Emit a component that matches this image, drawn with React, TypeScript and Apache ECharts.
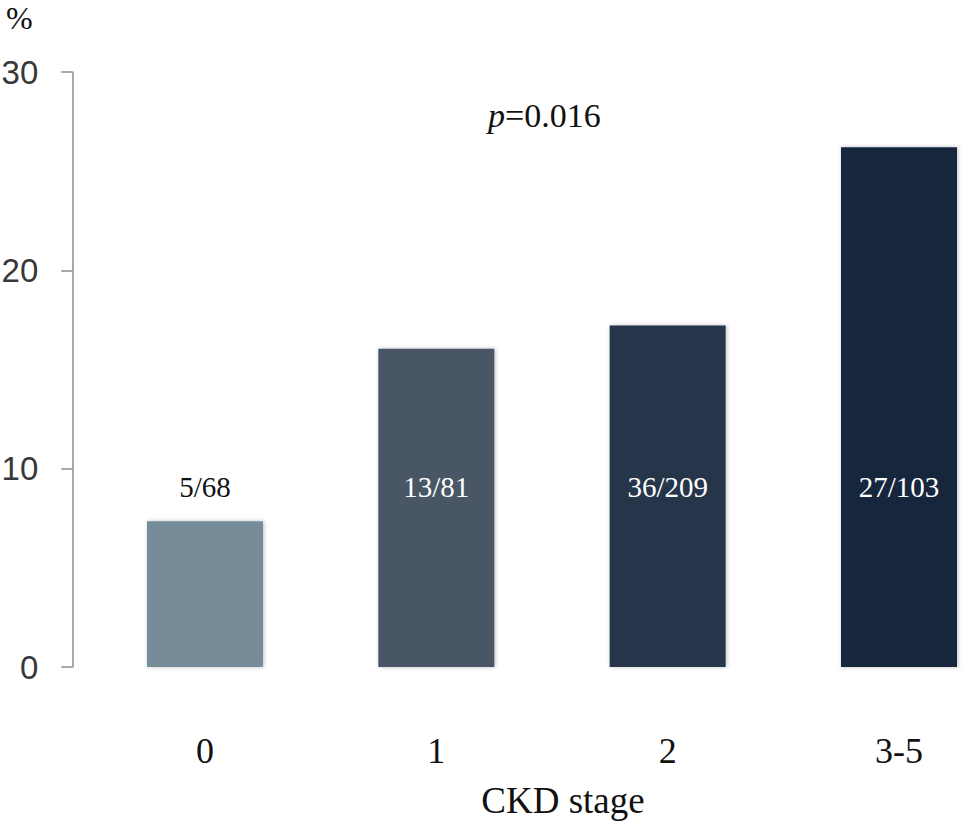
import React, { useEffect, useRef } from "react";
import * as echarts from "echarts";

const categories = ["0", "1", "2", "3-5"];
const percentValues = [7.35, 16.05, 17.22, 26.21];
const countLabels = ["5/68", "13/81", "36/209", "27/103"];
const barColors = ["#778c99", "#4a5766", "#263648", "#12263d"];
const labelColors = ["#111111", "#ffffff", "#ffffff", "#ffffff"];
const labelLevel = [9.1, 9.1, 9.1, 9.1];
const yTicks = { min: 0, max: 30, interval: 10 };

const SERIF = "Liberation Serif";

export default function App() {
  const ref = useRef<HTMLDivElement>(null);
  useEffect(() => {
    if (!ref.current) return;
    const chart = echarts.init(ref.current, null, { renderer: "svg" });
    chart.setOption({
      animation: false,
      backgroundColor: "#ffffff",
      textStyle: { fontFamily: SERIF },
      grid: {
        left: 89.33,
        right: -46.67,
        top: 72,
        bottom: 154,
        containLabel: false,
        outerBoundsMode: "none",
      },
      xAxis: {
        type: "category",
        data: categories,
        axisLine: { show: false },
        axisTick: { show: false },
        axisLabel: {
          margin: 66,
          fontFamily: SERIF,
          fontSize: 36,
          color: "#111111",
        },
      },
      yAxis: {
        type: "value",
        min: yTicks.min,
        max: yTicks.max,
        interval: yTicks.interval,
        offset: 17,
        splitLine: { show: false },
        axisLine: { show: true, lineStyle: { color: "#8c8c8c", width: 1.5 } },
        axisTick: { show: true, length: 11, lineStyle: { color: "#8c8c8c", width: 1.5 } },
        axisLabel: {
          margin: 34,
          fontFamily: "Liberation Sans",
          fontSize: 33,
          color: "#383838",
        },
      },
      series: [
        {
          type: "bar",
          barWidth: 116,
          data: percentValues.map((v, i) => ({
            value: v,
            itemStyle: {
              color: barColors[i],
              shadowBlur: 4,
              shadowColor: "rgba(0,0,0,0.25)",
              shadowOffsetX: 1,
              shadowOffsetY: 0,
            },
          })),
        },
        {
          type: "scatter",
          symbolSize: 0,
          z: 5,
          itemStyle: { opacity: 1 },
          label: {
            show: true,
            position: "inside",
            fontFamily: SERIF,
            fontSize: 29,
            formatter: (p: any) => countLabels[p.dataIndex],
          },
          data: labelLevel.map((v, i) => ({
            value: v,
            label: { color: labelColors[i] },
          })),
        },
      ],
      graphic: [
        {
          type: "text",
          left: 6,
          top: 2,
          style: {
            text: "%",
            fontFamily: SERIF,
            fontSize: 32,
            fill: "#111111",
          },
        },
        {
          type: "text",
          x: 505,
          y: 115,
          style: {
            text: "p",
            fontFamily: SERIF,
            fontStyle: "italic",
            fontSize: 34,
            fill: "#111111",
            align: "right",
            verticalAlign: "middle",
          },
        },
        {
          type: "text",
          x: 505,
          y: 115,
          style: {
            text: "=0.016",
            fontFamily: SERIF,
            fontSize: 34,
            fill: "#111111",
            align: "left",
            verticalAlign: "middle",
          },
        },
        {
          type: "text",
          x: 563,
          y: 800,
          style: {
            text: "CKD stage",
            fontFamily: SERIF,
            fontSize: 37,
            fill: "#111111",
            align: "center",
            verticalAlign: "middle",
          },
        },
      ],
    });
    return () => chart.dispose();
  }, []);
  return (
    <div
      ref={ref}
      style={{ position: "absolute", left: 0, top: 0, width: 968, height: 821 }}
    />
  );
}
